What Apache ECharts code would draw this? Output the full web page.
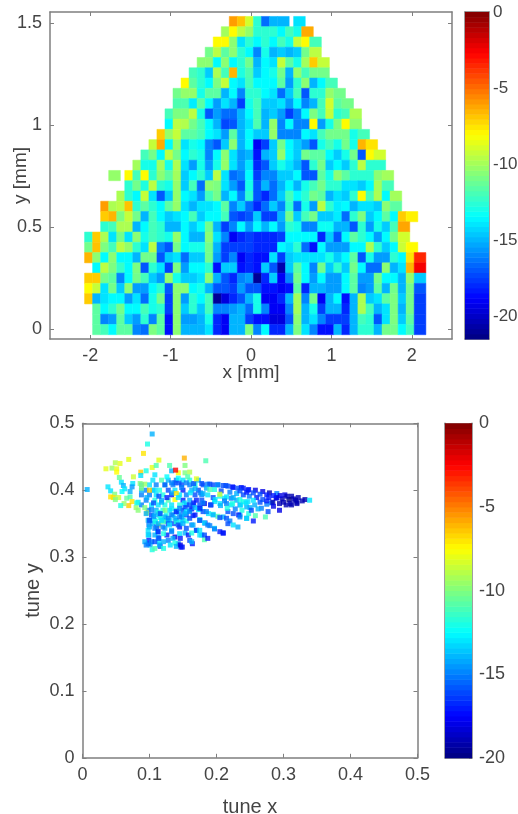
<!DOCTYPE html>
<html><head><meta charset="utf-8">
<style>html,body{margin:0;padding:0;background:#fff}#c{width:518px;height:814px}</style>
<script src="https://cdn.jsdelivr.net/npm/echarts@6/dist/echarts.min.js"></script>
</head><body><div id="c"></div>
<script>
// ---- map values: rows from the top of the picture, each with its first column
const rowStart=[18,17,16,15,14,13,12,11,11,10,10,9,8,7,6,3,5,4,2,2,2,0,0,0,1,0,0,0,1,1,1];
const mapRows=[
[-6,-6.8,-9,-12.5,-16.5,-15,-15,null,-14],
[-10,-8,-9.5,-10.3,-12.5,-12.5,-12.5,-13.5,-12,-13,-6.3],
[-8,-8,-10.5,-14,-12.5,-13.5,-12.5,-13.5,-12,-13,-9.3,-8,-12],
[-11,-9.5,-11.5,-10.5,-12.5,-13.5,-16,-13,-15,-14.5,-15,-14.5,-11,-9.5],
[-10.5,-10.5,-13.5,-10.5,-13.5,-12.5,-11,-15,-13.5,-14,-9.3,-11.5,-13,-10,-7,-9.3],
[-12,-12.5,-14.5,-9.8,-12,-6.5,-12.8,-11.8,-14.5,-13.5,-13,-11,-15,-10.3,-12,-11,-11],
[-8,-11.5,-12.5,-13.5,-10.8,-9.3,-13.5,-14,-12,-13.5,-13.5,-13.5,-11.5,-15.5,-12.5,-10.5,-15,-13.5,-12],
[-11,-10.3,-10.3,-13,-11.5,-11.5,-15,-13.5,-16,-12.5,-12.5,-13.5,-14,-16.5,-14.5,-12,-17,-12.5,-12.5,-10.3,-11],
[-11.8,-11.8,-13.8,-11.5,-13.5,-15.5,-14,-15,-17.5,-13,-12,-14.5,-14.5,-14,-15.5,-13.5,-16,-15,-12,-9,-11.5,-11],
[-12,-10.8,-10.8,-9.5,-13,-17,-15.5,-16.5,-16.5,-15,-13.5,-12,-15,-14.5,-15.5,-17.5,-16,-13.5,-10.8,-12,-9.3,-12.5,-12,-9.8],
[-13.5,-9.5,-9.7,-11,-12,-13.5,-15,-17.3,-17,-15,-14,-11.8,-15,-10.3,-16,-13.5,-16,-16,-8,-15.5,-13,-10.8,-8,-10.5],
[-7,-10.3,-9.3,-11.5,-11.5,-12,-13.5,-14,-15.5,-11.5,-15,-13.5,-14.5,-14.5,-10.3,-16,-16,-16,-13.5,-14,-12,-11,-11,-11,-13,-12],
[-9.3,-6.3,-13.5,-10.3,-14,-13,-13.5,-16,-17,-14.5,-10.5,-15,-13.5,-19,-17.5,-14.5,-11,-13.5,-14.5,-15.5,-17,-13,-12,-13,-11,-13,-6.5,-7.5],
[-12,-11,-13.5,-9.5,-11,-13.5,-12.5,-13,-16,-13.5,-10.5,-14,-15.5,-15,-18.5,-15,-14.5,-10.3,-13.5,-14.5,-11,-11.5,-11.5,-13.5,-14.5,-13,-11,-17,-8,-9],
[-10,-13,-13,-10,-13,-9.8,-14,-15.5,-13,-15.5,-13,-10.3,-14,-15.5,-14,-18,-17,-14.5,-13,-14,-15,-17,-12.5,-11,-14.5,-13.5,-14.5,-12.5,-9.5,-12.5,-12.5],
[-10.3,null,-8,-12,-8,-12.5,-10.5,-11.5,-10,-14.5,-13.5,-12.5,-14.5,-9.5,-14,-16.5,-16,-13.5,-17.5,-16,-16,-14.5,-14.5,-13.5,-17,-17,-11.5,-13,-10.5,-11.5,-12.5,-12.5,-12.5,-10.5,-10],
[-12.5,-11,-12.8,-9.5,-12.5,-13,-10.3,-14.5,-12,-16.5,-10.5,-10.8,-14,-15.5,-17,-13,-17,-15,-16.5,-15,-13.5,-15,-13,-12,-11,-12.5,-12.5,-14,-14,-14.5,-13.5,-10,-12],
[-9.8,-12.5,-13.5,-9.3,-14,-17,-14.5,-10.3,-13.5,-14,-15.5,-12,-11,-15,-13.5,-16,-12.5,-17,-18,-16.5,-14.5,-12,-13.5,-12.5,-11,-11.5,-15,-14,-14.5,-12.5,-8,-12,-9.8,-13.5,-10],
[-6,-9.8,-9.5,-6.8,-12.5,-11.5,-12.5,-13.5,-11.5,-10.3,-14,-15,-14,-14,-13.5,-11.5,-16,-14.5,-16.5,-18,-16.5,-14.5,-16,-12.5,-16.5,-13,-15.5,-9.5,-12.5,-13.8,-13.5,-15,-14,-14,-14.5,-10.5,-11.5],
[-7,-6.5,-10.8,-9.3,-11,-15,-12,-13.5,-14.5,-14,-13.5,-12,-14.5,-13.5,-13.5,-12,-17,-17.5,-17,-14.5,-17.5,-17.5,-15,-11,-14.5,-12,-11,-14.5,-14.5,-13.8,-16.5,-12.5,-10.8,-14.5,-13.5,-11.5,-13.5,-7,-7.8],
[-12.5,-12,-9.8,-9.8,-15,-13.5,-12,-12.5,-15,-15,-13.5,-14.5,-13.5,-11,-15,-17.5,-16,-13.5,-15.5,-13.5,-15,-13.5,-15.5,-12.5,-13,-16,-16,-13.2,-13.2,-15,-15,-17,-12.5,-15.5,-13,-14.5,-12,-6.2],
[-12.5,-7,-9.8,-14,-11,-14,-10.5,-13,-12,-12.5,-13,-10.3,-13.5,-15,-15,-10.5,-14,-16,-19,-18,-17.5,-18,-18,-18,-17.5,-13.5,-13.5,-13.5,-13.5,-18,-14.5,-17,-13.5,-11.5,-12.5,-13.5,-15.5,-13.5,-11,-9],
[-11,-6.8,-10.8,-12,-9.5,-10.3,-12.5,-14,-9.5,-16,-17,-11,-13.5,-13,-13,-11,-15,-17.5,-17.5,-17.5,-17.5,-18,-18,-18,-13.5,-14,-12.5,-16.5,-18.5,-13.5,-15.5,-15.5,-15.5,-13.5,-13.5,-9.8,-12.5,-14.5,-13.5,-9.2,-8],
[-6.5,-10.5,-13.5,-10.5,-13.5,-13.5,-15,-11,-11,-17,-14.5,-14,-16.5,-14.5,-14.5,-11,-15.5,-17.5,-16,-19,-18,-18.5,-18.5,-14,-17.5,-14.5,-14,-14,-14,-14,-13,-14.5,-13.5,-11.5,-17,-13,-15.5,-15.5,-12.5,-13.5,-7.5,-3.5],
[-13.5,-9.5,-10.8,-12.3,-13.5,-10.8,-17,-12.5,-14,-17.5,-10.8,-15.5,-13.5,-13.5,-12.5,-18.5,-14.5,-14.5,-18.5,-18,-18.5,-14.5,-17,-20.5,-14.5,-11.5,-13.5,-16,-11,-14.5,-12.5,-14.5,-11,-13.5,-16.5,-16.5,-10.5,-15,-14,-6.5,-2.5],
[-7,-7,-11,-11.5,-16,-13.5,-11,-12,-14.5,-15.5,-10.3,-13,-14.5,-14.5,-14,-10.5,-15,-17,-18,-16,-15.5,-21,-18,-14.5,-19,-16,-11,-13.5,-15.5,-13.5,-15.5,-15.5,-13.5,-11.5,-15.5,-15.5,-11,-13.5,-13.5,-15,-10.3,-14.5],
[-8,-9.3,-14,-11,-14.5,-10.5,-15.5,-15.5,-13.5,-12.5,-17,-10.5,-10.5,-13.5,-13,-15,-17,-17,-17.5,-15.5,-17,-17,-18.5,-18.5,-19,-18.5,-11.5,-18,-15,-15,-15.5,-15.5,-13.5,-11.5,-16,-15.5,-11.5,-15,-11,-15,-11,-17],
[-7,-15,-14,-13.5,-13.5,-15.5,-14,-16.5,-13,-11,-17.5,-10.5,-15.5,-12.5,-13.5,-12,-21,-19.5,-18,-17,-15,-13,-19,-19,-18,-15,-10,-16,-11,-19,-15,-13.5,-18.5,-15,-9.8,-14.5,-14,-11.5,-10.8,-14.5,-11,-17.5],
[-11.5,-13.5,-12.5,-11,-13.5,-13.5,-12,-13,-12.5,-17.5,-10.5,-14.5,-12.5,-14.5,-12,-16,-16,-15.5,-15,-16.5,-13,-16,-19,-19,-16,-10,-15,-13,-17.5,-15,-15,-18,-15,-9.8,-12,-15,-14,-10.8,-15,-11,-17.5],
[-11.5,-16,-15.5,-11.5,-14.5,-15.5,-12.5,-16,-11.5,-18.5,-10.5,-15.5,-15.5,-15,-13,-18,-19,-15,-15,-17.5,-18.5,-18.5,-19.5,-19.5,-17,-10.5,-15,-14,-16,-17.5,-17.5,-17.5,-15,-12,-12.5,-17,-14,-10.8,-14.5,-11.5,-17.5],
[-11.5,-12,-13.5,-11.5,-11.5,-16,-16.5,-10.8,-11.5,-18.5,-10.5,-15,-15,-15,-14,-18,-19,-15,-15,-10.8,-16,-13.5,-18,-18,-15,-10.8,-14,-16,-18.5,-18.5,-15,-18,-15,-12.5,-12.5,-15,-11,-11,-13.5,-12,-17.5]
];
// ---- tune values [tune x, tune y, value]
const tuneOutliers=[[.104,.484,-14],[.097,.469,-12],[.091,.455,-7],[.069,.446,-8],[.049,.441,-9],[.056,.440,-8],[.044,.433,-9.5],[.035,.432,-8],[.051,.432,-8],[.051,.427,-7.5],[.114,.445,-8],[.104,.434,-8],[.110,.437,-11],[.130,.437,-11],[.133,.429,-14],[.087,.427,-6.5],[.095,.429,-12],[.108,.423,-13],[.152,.448,-6],[.153,.437,-10],[.184,.444,-11],[.143,.426,-7.5],[.153,.426,-10],[.160,.427,-9],[.157,.420,-11],[.076,.420,-8.5],[.087,.422,-13],[.126,.420,-12.5],[.143,.418,-12.5],[.170,.417,-8],[.055,.419,-10.5],[.007,.401,-14],[.139,.430,-2.5]];
const tuneLeft=[[.058,.412,-13],[.061,.407,-14],[.038,.405,-13],[.042,.399,-13],[.063,.402,-13],[.059,.398,-12.5],[.075,.410,-13],[.074,.405,-14.5],[.086,.410,-10],[.093,.409,-9.5],[.088,.403,-10],[.071,.398,-14],[.048,.394,-10],[.042,.390,-7],[.046,.389,-7],[.054,.389,-8.5],[.049,.386,-10],[.066,.388,-10.5],[.071,.390,-11],[.074,.383,-7],[.069,.377,-6.5],[.062,.380,-9.5],[.057,.377,-12],[.080,.374,-9.5],[.083,.370,-9.8],[.081,.381,-12],[.100,.400,-6.5]];
const tuneRow415=[[.105,.415,-13],[.118,.415,-11],[.128,.415,-14],[.140,.415,-15],[.150,.415,-13],[.160,.415,-12],[.173,.415,-14]];
const tuneRow408=[[.088,.408,-14],[.100,.408,-13],[.110,.408,-15],[.123,.408,-12],[.135,.408,-15],[.148,.408,-16],[.160,.408,-15],[.168,.408,-12],[.180,.408,-16]];
const tuneRow400=[[.095,.400,-15],[.105,.400,-14],[.115,.400,-12],[.128,.400,-16],[.138,.400,-13],[.150,.400,-17],[.163,.400,-14],[.173,.400,-16]];
const tuneRow393=[[.088,.393,-15],[.100,.393,-15],[.110,.393,-13],[.120,.393,-12],[.133,.393,-17],[.145,.393,-13],[.155,.393,-15],[.168,.393,-16],[.178,.393,-15]];
const tuneRow385=[[.095,.385,-15],[.108,.385,-12],[.118,.385,-14],[.128,.385,-11],[.138,.386,-7.5],[.150,.385,-17],[.160,.385,-14],[.170,.385,-17]];
const tuneRow378=[[.088,.378,-15],[.103,.378,-13],[.113,.378,-13],[.123,.378,-12],[.133,.378,-13],[.145,.378,-12],[.155,.378,-16],[.165,.378,-15],[.175,.378,-16]];
const tuneRow370=[[.098,.370,-15],[.110,.370,-14],[.120,.370,-12],[.130,.370,-13],[.140,.370,-12],[.150,.370,-16],[.160,.370,-14]];
const tuneRow363=[[.096,.366,-8],[.103,.363,-16],[.115,.363,-13],[.125,.363,-12],[.135,.363,-14],[.148,.363,-15],[.155,.363,-16]];
const tuneRow355=[[.098,.355,-14],[.108,.355,-13],[.120,.355,-15],[.130,.355,-13],[.140,.355,-15],[.150,.355,-14]];
const tuneCore=[[.088,.400,-14],[.108,.400,-13],[.114,.391,-16],[.123,.408,-16],[.138,.411,-16],[.148,.404,-15],[.161,.396,-13],[.168,.402,-14],[.176,.396,-15],
[.096,.389,-14],[.106,.381,-16],[.118,.382,-14],[.126,.389,-17],[.134,.396,-14],[.140,.395,-7],[.143,.389,-13],[.152,.381,-13],[.166,.381,-17],[.178,.385,-16],
[.083,.382,-13],[.093,.374,-10],[.103,.371,-15],[.113,.367,-12],[.123,.370,-10],[.133,.372,-13],[.143,.367,-14],[.153,.374,-16],[.163,.372,-17],[.176,.372,-13],
[.106,.361,-15],[.116,.359,-12],[.126,.354,-13],[.136,.350,-16],[.146,.352,-13],[.114,.348,-8.5],[.105,.350,-14]];
const fanDown1=[[.101,.355,-14],[.099,.348,-15],[.098,.340,-13],[.099,.333,-15],[.099,.325,-17],[.101,.318,-14],[.104,.311,-12]];
const fanDown2=[[.108,.363,-14],[.109,.353,-12],[.111,.345,-16],[.112,.338,-13],[.113,.330,-15],[.114,.323,-13],[.116,.316,-16]];
const fanDown3=[[.116,.365,-16],[.121,.353,-11],[.123,.343,-14],[.126,.333,-17],[.128,.325,-15],[.131,.318,-13]];
const fanDown4=[[.123,.360,-14],[.128,.350,-16],[.133,.340,-14],[.138,.330,-18],[.143,.320,-15],[.147,.315,-18]];
const fanDown5=[[.133,.363,-15],[.140,.353,-12],[.145,.345,-17],[.153,.336,-14],[.160,.325,-16],[.164,.320,-17]];
const fanDown6=[[.140,.368,-17],[.148,.360,-14],[.155,.354,-12],[.163,.348,-15],[.170,.340,-15],[.178,.333,-14]];
const fanDown7=[[.145,.373,-15],[.155,.368,-13],[.165,.362,-17],[.175,.355,-15],[.183,.351,-17]];
const ray5=[[.160,.368,-15],[.168,.363,-17],[.175,.356,-12],[.182,.351,-13],[.190,.347,-15],[.197,.343,-13],[.205,.338,-17],[.210,.336,-18]];
const ray4=[[.160,.378,-16],[.168,.374,-14],[.173,.371,-13],[.180,.368,-16],[.188,.365,-13],[.195,.364,-12],[.202,.361,-11],[.210,.360,-14]];
const ray3b=[[.217,.368,-16],[.225,.365,-16],[.235,.363,-14],[.245,.358,-15]];
const ray3=[[.182,.380,-18],[.191,.378,-17],[.197,.383,-13],[.205,.380,-13],[.215,.380,-15],[.222,.378,-13],[.235,.378,-15],[.245,.375,-14]];
const ray2=[[.180,.395,-14],[.187,.393,-13],[.195,.389,-16],[.205,.391,-12],[.212,.388,-13],[.222,.388,-15],[.230,.385,-14],[.240,.383,-12],[.247,.383,-13]];
const ray1=[[.187,.409,-15],[.195,.408,-16],[.202,.408,-15],[.210,.407,-16],[.217,.406,-16],[.225,.404,-17],[.232,.403,-16],[.240,.403,-17],[.247,.400,-17]];
const ray6=[[.153,.365,-14],[.160,.358,-16],[.165,.348,-14],[.170,.340,-16],[.175,.333,-13],[.182,.326,-11]];
const ray7=[[.145,.360,-15],[.150,.350,-14],[.155,.343,-16],[.158,.333,-17],[.163,.323,-14]];
const ray8=[[.138,.358,-14],[.143,.348,-16],[.145,.335,-13],[.146,.328,-17],[.146,.318,-18],[.149,.315,-17]];
const ray9=[[.128,.358,-15],[.130,.348,-13],[.133,.338,-15],[.135,.328,-14],[.138,.321,-12],[.140,.316,-14]];
const ray10=[[.118,.355,-13],[.120,.345,-15],[.121,.335,-12],[.121,.323,-14],[.121,.313,-12]];
const ray11=[[.108,.343,-15],[.108,.333,-14],[.108,.323,-16],[.108,.313,-11]];
const ray11b=[[.113,.350,-14],[.113,.338,-17],[.114,.328,-16],[.115,.318,-14]];
const ray12=[[.100,.355,-16],[.100,.345,-14],[.098,.333,-13],[.098,.320,-16],[.103,.323,-15],[.095,.365,-14],[.093,.323,-14],[.095,.318,-15]];
const fanTop=[[.133,.411,-15],[.144,.411,-16],[.155,.411,-15],[.166,.410,-16],[.178,.410,-16],[.190,.409,-16],[.202,.408,-15],[.214,.407,-16],[.224,.405,-17],[.237,.404,-17],[.248,.401,-17],[.258,.400,-18],[.269,.398,-18],[.279,.396,-19],[.290,.395,-15],[.302,.393,-18],[.312,.391,-19],[.322,.389,-19],[.332,.386,-19],[.339,.385,-13]];
const fanB=[[.185,.403,-14],[.197,.401,-12],[.207,.399,-16],[.220,.397,-15],[.230,.395,-14],[.240,.393,-16],[.249,.391,-15],[.260,.389,-17],[.269,.386,-16],[.282,.381,-15],[.294,.380,-19],[.278,.389,-17],[.289,.388,-18],[.298,.387,-19],[.308,.386,-20],[.318,.385,-19],[.328,.384,-19]];
const fanC=[[.190,.401,-11],[.205,.394,-8.5],[.215,.390,-13],[.225,.389,-14],[.235,.386,-12],[.244,.381,-13],[.257,.378,-14],[.267,.373,-15],[.277,.368,-16],[.294,.370,-18],[.284,.382,-19],[.304,.378,-19],[.312,.378,-19],[.320,.380,-19]];
const fanD=[[.180,.381,-15],[.192,.378,-16],[.206,.377,-14],[.216,.373,-12],[.228,.372,-15],[.238,.370,-12],[.248,.365,-12],[.258,.362,-11],[.273,.360,-11],[.198,.386,-13],[.212,.384,-15],[.224,.380,-12],[.236,.378,-13],[.250,.374,-14]];
const fanE=[[.175,.373,-17],[.185,.368,-15],[.195,.363,-14],[.205,.359,-16],[.215,.358,-16],[.233,.363,-17],[.235,.360,-15],[.245,.358,-13],[.255,.354,-17],[.220,.354,-15]];
const fanF=[[.175,.355,-16],[.187,.348,-15],[.197,.342,-15],[.210,.336,-17],[.217,.350,-16],[.225,.348,-13],[.232,.345,-14],[.175,.340,-13],[.182,.333,-16],[.187,.328,-17],[.163,.336,-12]];
const fanTip=[[.290,.389,-18],[.300,.382,-19],[.310,.380,-19],[.320,.382,-19],[.315,.387,-19],[.305,.391,-19],[.295,.392,-18],[.285,.392,-17],[.275,.393,-17],[.265,.394,-16],[.255,.396,-16],[.245,.397,-17],[.235,.399,-16],[.255,.385,-13],[.265,.382,-16],[.275,.379,-15],[.285,.376,-18],[.275,.384,-17],[.262,.372,-14],[.252,.370,-16]];
// ---- ticks
const mapXTicks=[-2,-1,0,1,2], mapYTicks=[0,0.5,1,1.5];
const tuneTicks=[0,0.1,0.2,0.3,0.4,0.5];
const mapBarTicks=[0,-5,-10,-15,-20], tuneBarTicks=[0,-5,-10,-15,-20];
const JET=['#00007f','#0000ff','#007fff','#00ffff','#7fff7f','#ffff00','#ff7f00','#ff0000','#7f0000'];

const TXT='#444444', LINE='#7f7f7f', FONT='"Liberation Sans",Arial,sans-serif';
function axes(kind,g,min,max,ticks,name,gap,labels,nameSize){
  const main={type:'value',gridIndex:g,min,max,splitLine:{show:false},
    axisLine:{onZero:false,lineStyle:{color:LINE,width:1.5}},
    axisTick:{show:!!ticks,inside:true,length:4,lineStyle:{color:LINE},customValues:ticks||undefined},
    axisLabel:{show:labels,color:TXT,fontSize:18,fontFamily:FONT,margin:8,customValues:ticks||undefined,showMinLabel:true,showMaxLabel:true,hideOverlap:false},
    name,nameLocation:'middle',nameGap:gap,nameMoveOverlap:false,nameTextStyle:{color:TXT,fontSize:nameSize||19,fontFamily:FONT}};
  const other={type:'value',gridIndex:g,min,max,splitLine:{show:false},
    axisLine:{onZero:false,lineStyle:{color:LINE,width:1.5}},
    axisTick:{show:!!ticks,inside:true,length:4,lineStyle:{color:LINE},customValues:ticks||undefined},
    axisLabel:{show:false}};
  if(kind==='x'){main.position='bottom';other.position='top';}
  else{main.position='left';other.position='right';}
  return [main,other];
}
function barAxes(g,min,max,ticks,size,margin){
  const y=axes('y',g,min,max,null,'',0,false);
  y[1]=Object.assign({},y[1],{axisTick:{show:true,inside:true,length:3,lineStyle:{color:LINE},customValues:ticks},
    axisLabel:{show:true,color:TXT,fontSize:size,fontFamily:FONT,margin,customValues:ticks,showMinLabel:true,showMaxLabel:true,hideOverlap:false}});
  return y;
}
// cell grid of the map: column and row pitch in millimetres
const colPitch=0.1, rowPitch=0.0503, firstColEdge=-2.07, lastRowEdge=-0.028;
const mapData=[];
mapRows.forEach((r,i)=>r.forEach((v,c)=>{
  if(v===null) return;
  const k=rowStart[i]+c, j=30-i, open=(c===r.length-1||r[c+1]===null);
  mapData.push([firstColEdge+k*colPitch,lastRowEdge+j*rowPitch,v,open?1.45:1]);
}));
function cell(p,api){
  const x=api.value(0),y=api.value(1),w=api.value(3)*colPitch;
  const a=api.coord([x,y+rowPitch]),b=api.coord([x+w,y]);
  const c=api.visual('color');
  return {type:'rect',shape:{x:a[0],y:a[1],width:b[0]-a[0],height:b[1]-a[1]},style:{fill:c,stroke:c,lineWidth:0.5}};
}
function levels(min,max){
  const out=[],n=64,h=(max-min)/n;
  for(let i=0;i<n;i++) out.push([0,min+i*h,min+(i+0.5)*h,h]);
  return out;
}
function band(p,api){
  const y=api.value(1),h=api.value(3);
  const a=api.coord([0,y+h]),b=api.coord([1,y]);
  return {type:'rect',shape:{x:a[0],y:a[1],width:b[0]-a[0],height:b[1]-a[1]+0.5},style:{fill:api.visual('color')}};
}
const tunePts=[].concat(tuneRow415,tuneRow408,tuneRow400,tuneRow393,tuneRow385,tuneRow378,tuneRow370,tuneRow363,tuneRow355,tuneCore,fanDown1,fanDown2,fanDown3,fanDown4,fanDown5,fanDown6,fanDown7,ray12,ray11,ray11b,ray10,ray9,ray8,ray7,ray6,ray5,ray4,ray3b,ray3,ray2,ray1,fanTop,fanB,fanC,fanD,fanE,fanF,fanTip,tuneLeft,tuneOutliers);
const gridBase={outerBoundsMode:'none',containLabel:false};
const option={
  animation:false,backgroundColor:'#fff',
  grid:[
    Object.assign({left:50,top:12,width:402,height:327},gridBase),
    Object.assign({left:465,top:12,width:24,height:327},gridBase),
    Object.assign({left:82.5,top:423.3,width:335,height:334.5},gridBase),
    Object.assign({left:445,top:423.3,width:27,height:334.5},gridBase)
  ],
  xAxis:[].concat(
    axes('x',0,-2.5,2.5,mapXTicks,'x [mm]',24,true),
    axes('x',1,0,1,null,'',0,false),
    axes('x',2,0,0.5,tuneTicks,'tune x',40,true,20),
    axes('x',3,0,1,null,'',0,false)
  ),
  yAxis:[].concat(
    axes('y',0,-0.049,1.553,mapYTicks,'y [mm]',20,true),
    barAxes(1,-21.5,0,mapBarTicks,17,4),
    axes('y',2,0,0.5,tuneTicks,'tune y',39,true,20),
    barAxes(3,-20,0,tuneBarTicks,18,7)
  ),
  visualMap:[
    {type:'continuous',show:false,min:-21.5,max:0,dimension:2,seriesIndex:[0,1],inRange:{color:JET}},
    {type:'continuous',show:false,min:-20,max:0,dimension:2,seriesIndex:[2,3],inRange:{color:JET}}
  ],
  series:[
    {type:'custom',xAxisIndex:0,yAxisIndex:0,data:mapData,renderItem:cell,silent:true},
    {type:'custom',xAxisIndex:2,yAxisIndex:2,data:levels(-21.5,0),renderItem:band,silent:true},
    {type:'scatter',xAxisIndex:4,yAxisIndex:4,data:tunePts,symbol:'rect',symbolSize:5,silent:true},
    {type:'custom',xAxisIndex:6,yAxisIndex:6,data:levels(-20,0),renderItem:band,silent:true}
  ]
};
echarts.init(document.getElementById('c'),null,{renderer:'canvas'}).setOption(option);
</script></body></html>
